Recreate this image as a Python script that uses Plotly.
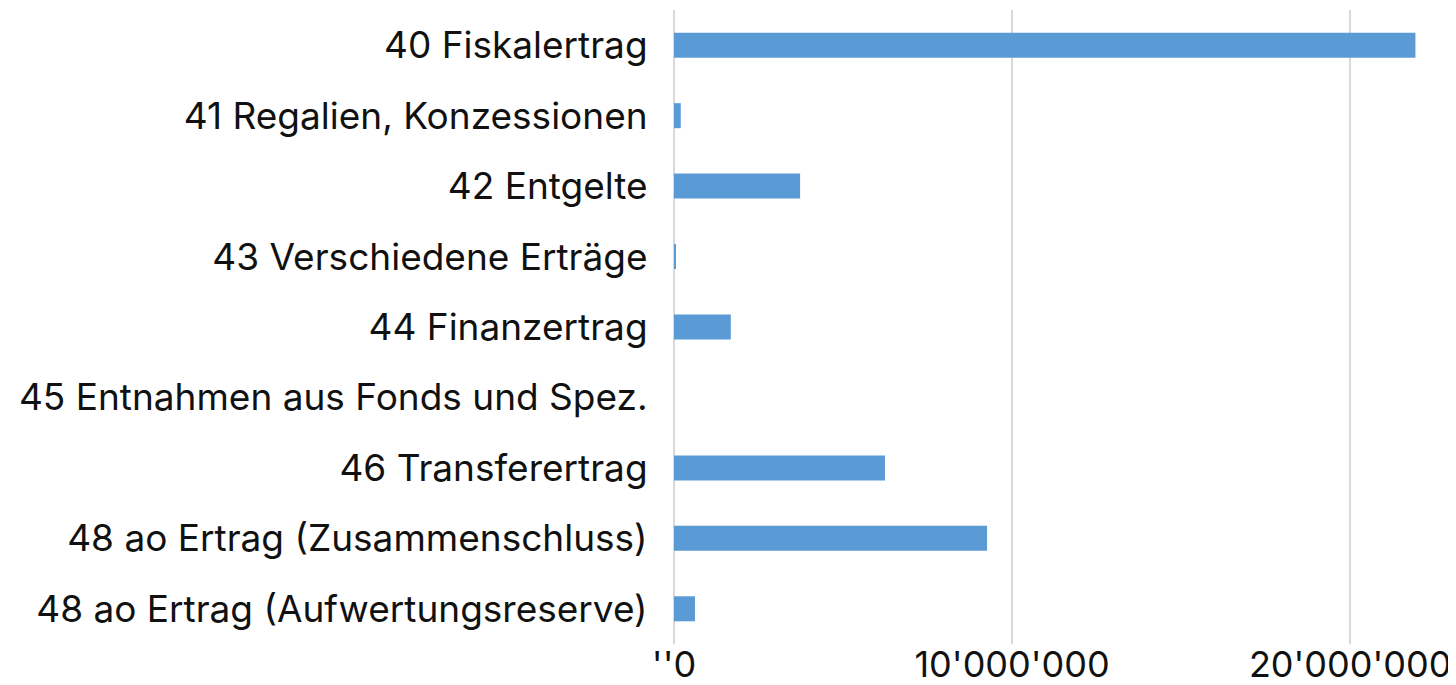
import plotly.graph_objects as go

categories = [
    "40 Fiskalertrag",
    "41 Regalien, Konzessionen",
    "42 Entgelte",
    "43 Verschiedene Erträge",
    "44 Finanzertrag",
    "45 Entnahmen aus Fonds und Spez.",
    "46 Transferertrag",
    "48 ao Ertrag (Zusammenschluss)",
    "48 ao Ertrag (Aufwertungsreserve)",
]
values = [21930000, 200000, 3730000, 50000, 1680000, 0, 6240000, 9260000, 620000]

tick_vals = [0, 10000000, 20000000]
tick_text = ["''0", "10'000'000", "20'000'000"]

FONT = dict(family="Inter", size=37, color="#111111")
XFONT = dict(family="Inter", size=36, color="#111111")

fig = go.Figure(
    go.Bar(
        y=categories,
        x=values,
        orientation="h",
        marker=dict(color="#5B9BD5", line=dict(width=0)),
    )
)

# page body has an 8px default margin; size the figure so the plot lands where the reference has it
fig.update_layout(
    width=1448,
    height=669,
    margin=dict(l=666, r=0, t=2, b=33),
    paper_bgcolor="white",
    plot_bgcolor="white",
    bargap=0.645,
    showlegend=False,
    font=FONT,
)
fig.update_yaxes(
    autorange="reversed",
    categoryorder="array",
    categoryarray=categories,
    ticks="outside",
    ticklen=18,
    tickcolor="rgba(0,0,0,0)",
    showgrid=False,
    automargin=False,
    tickfont=FONT,
)
fig.update_xaxes(
    range=[0, 23130000],
    tickvals=tick_vals,
    ticktext=tick_text,
    showgrid=True,
    gridcolor="#D9D9D9",
    gridwidth=1.5,
    zeroline=True,
    zerolinecolor="#D9D9D9",
    zerolinewidth=2,
    ticks="",
    ticklabelstandoff=-4,
    ticklabeloverflow="allow",
    automargin=False,
    tickfont=XFONT,
)

fig.write_html("out.html")
